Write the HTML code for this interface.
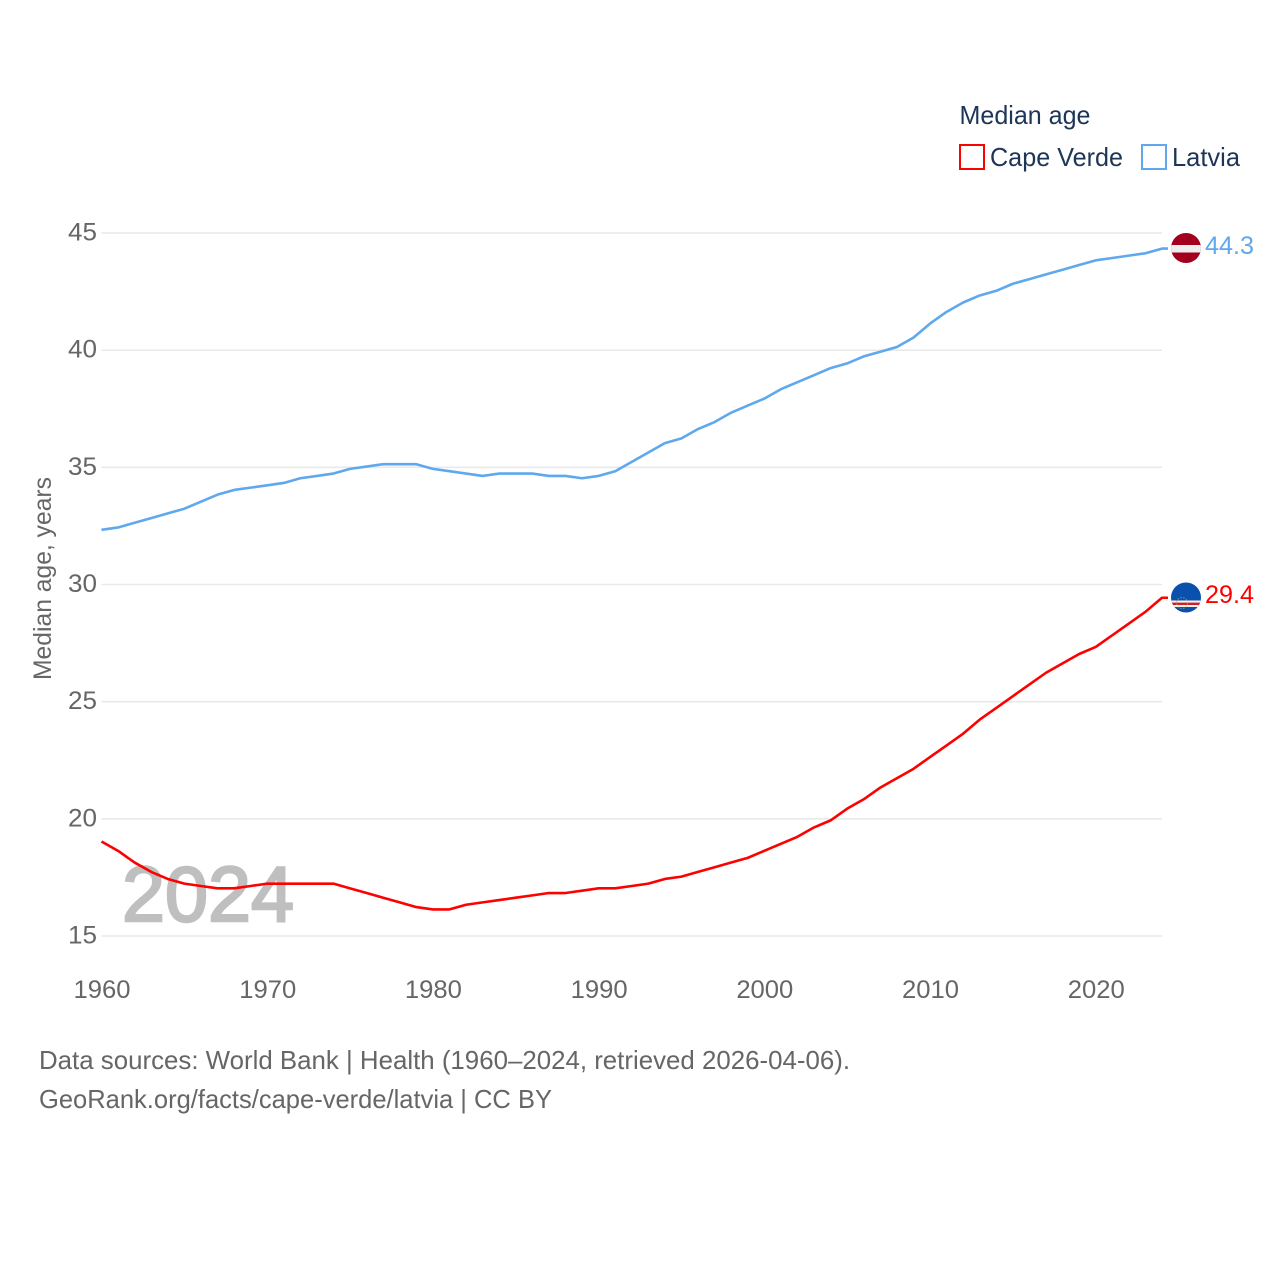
<!DOCTYPE html>
<html lang="en">
<head>
<meta charset="utf-8">
<title>Median age: Cape Verde and Latvia</title>
<style>
html,body{margin:0;padding:0;background:#fff;width:1280px;height:1280px;overflow:hidden}
svg{display:block;font-family:"Liberation Sans",sans-serif}
</style>
</head>
<body>
<svg id="chart" width="1280" height="1280" viewBox="0 0 1280 1280" xmlns="http://www.w3.org/2000/svg">
  <defs>
    <clipPath id="flag-lv-clip"><circle cx="1186" cy="248" r="15"/></clipPath>
    <clipPath id="flag-cv-clip"><circle cx="1186" cy="597.5" r="15"/></clipPath>
  </defs>
  <g id="grid"></g>
  <g id="yticks"></g>
  <g id="xticks"></g>
  <text transform="translate(51,680) rotate(-90)" font-size="25" fill="#666" textLength="203" lengthAdjust="spacingAndGlyphs">Median age, years</text>
  <text x="122" y="921" font-size="78" fill="#bfbfbf" stroke="#bfbfbf" stroke-width="2.4" textLength="172" lengthAdjust="spacingAndGlyphs">2024</text>
  <g id="series" transform="translate(0,-0.8)"></g>

  <g clip-path="url(#flag-lv-clip)">
    <rect x="1171" y="233" width="30" height="30" fill="#a3001f"/>
    <rect x="1171" y="245" width="30" height="7.5" fill="#eeeeee"/>
  </g>
  <text x="1205" y="254" font-size="25" fill="#5fa8ee" textLength="49" lengthAdjust="spacingAndGlyphs">44.3</text>

  <g clip-path="url(#flag-cv-clip)">
    <rect x="1171" y="582" width="30" height="31" fill="#0a50ad"/>
    <rect x="1171" y="600.5" width="30" height="6.5" fill="#f3f3f3"/>
    <rect x="1171" y="602.6" width="30" height="2.4" fill="#cf2027"/>
    <circle cx="1182" cy="603" r="5.5" fill="none" stroke="#c9b04a" stroke-width="1" stroke-dasharray="1.5 1.5" opacity=".7"/>
  </g>
  <text x="1205" y="603" font-size="25" fill="#ff0000" textLength="49" lengthAdjust="spacingAndGlyphs">29.4</text>

  <g>
    <text x="959.5" y="124" font-size="26" fill="#1d3557" textLength="131" lengthAdjust="spacingAndGlyphs">Median age</text>
    <rect x="960" y="145" width="24" height="24" fill="none" stroke="#ff0000" stroke-width="2"/>
    <text x="990" y="166" font-size="26" fill="#1d3557" textLength="133" lengthAdjust="spacingAndGlyphs">Cape Verde</text>
    <rect x="1142" y="145" width="24" height="24" fill="none" stroke="#5fa8ee" stroke-width="2"/>
    <text x="1172" y="166" font-size="26" fill="#1d3557" textLength="68" lengthAdjust="spacingAndGlyphs">Latvia</text>
  </g>

  <text x="39" y="1069" font-size="26" fill="#666" textLength="811" lengthAdjust="spacingAndGlyphs">Data sources: World Bank | Health (1960–2024, retrieved 2026-04-06).</text>
  <text x="39" y="1108" font-size="26" fill="#666" textLength="513" lengthAdjust="spacingAndGlyphs">GeoRank.org/facts/cape-verde/latvia | CC BY</text>
</svg>
<script>
const startYear = 1960;
const capeVerde = [19.0,18.6,18.1,17.7,17.4,17.2,17.1,17.0,17.0,17.1,17.2,17.2,17.2,17.2,17.2,17.0,16.8,16.6,16.4,16.2,16.1,16.1,16.3,16.4,16.5,16.6,16.7,16.8,16.8,16.9,17.0,17.0,17.1,17.2,17.4,17.5,17.7,17.9,18.1,18.3,18.6,18.9,19.2,19.6,19.9,20.4,20.8,21.3,21.7,22.1,22.6,23.1,23.6,24.2,24.7,25.2,25.7,26.2,26.6,27.0,27.3,27.8,28.3,28.8,29.4];
const latvia = [32.3,32.4,32.6,32.8,33.0,33.2,33.5,33.8,34.0,34.1,34.2,34.3,34.5,34.6,34.7,34.9,35.0,35.1,35.1,35.1,34.9,34.8,34.7,34.6,34.7,34.7,34.7,34.6,34.6,34.5,34.6,34.8,35.2,35.6,36.0,36.2,36.6,36.9,37.3,37.6,37.9,38.3,38.6,38.9,39.2,39.4,39.7,39.9,40.1,40.5,41.1,41.6,42.0,42.3,42.5,42.8,43.0,43.2,43.4,43.6,43.8,43.9,44.0,44.1,44.3];
const yTickValues = [15,20,25,30,35,40,45];
const xTickValues = [1960,1970,1980,1990,2000,2010,2020];

const NS = 'http://www.w3.org/2000/svg';
function xScale(year){ return 101.5 + (year - 1960) * (1162 - 101.5) / 64; }
function yScale(v){ return 936 - (v - 15) * (936 - 233) / 30; }
function make(tag, attrs, parent, text){
  const el = document.createElementNS(NS, tag);
  for (const k in attrs) el.setAttribute(k, attrs[k]);
  if (text !== undefined) el.textContent = text;
  parent.appendChild(el);
  return el;
}
const grid = document.getElementById('grid');
const yticks = document.getElementById('yticks');
const xticks = document.getElementById('xticks');
const series = document.getElementById('series');

yTickValues.forEach(function(v){
  const line = make('line', {x1:101.5, x2:1162, y1:yScale(v), y2:yScale(v), stroke:'#e9e9e9', 'stroke-width':1.6}, grid);
  
  
  const label = make('text', {x:97, y:yScale(v) + 7.5, 'text-anchor':'end', 'font-size':25, fill:'#666', textLength:29, lengthAdjust:'spacingAndGlyphs'}, yticks, String(v));
  
  
});
xTickValues.forEach(function(t){
  const label = make('text', {x:xScale(t) + 0.5, y:998, 'text-anchor':'middle', 'font-size':25, fill:'#666', textLength:57, lengthAdjust:'spacingAndGlyphs'}, xticks, String(t));
  
  
});
function drawSeries(values, color){
  const pts = values.map(function(v, i){ return xScale(startYear + i).toFixed(2) + ',' + yScale(v).toFixed(2); });
  const last = values[values.length - 1];
  pts.push('1168,' + yScale(last).toFixed(2));
  return make('polyline', {points:pts.join(' '), fill:'none', stroke:color, 'stroke-width':2.6, 'stroke-linejoin':'round'}, series);
}
const cvLine = drawSeries(capeVerde, '#ff0000');


const lvLine = drawSeries(latvia, '#5fa8ee');


</script>
</body>
</html>
